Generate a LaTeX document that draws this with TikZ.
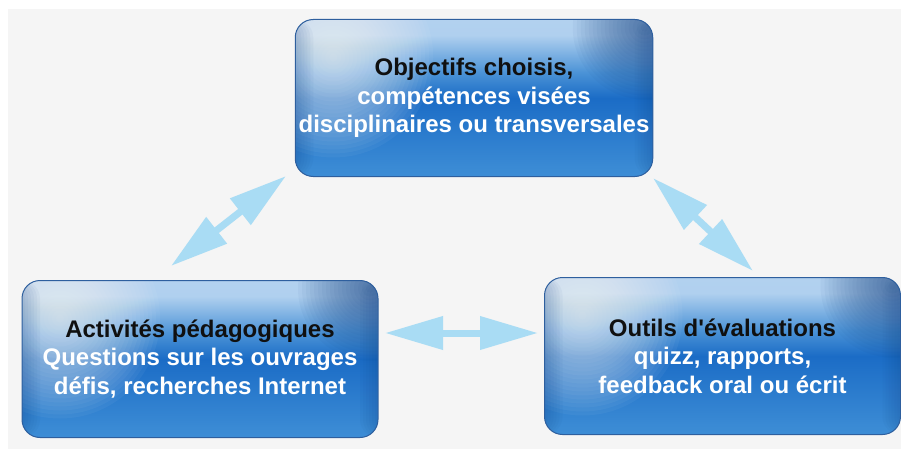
\documentclass[tikz,border=0pt]{standalone}
\usepackage{fontspec}
\setmainfont{Liberation Sans}[Ligatures=TeXOff]
\usetikzlibrary{arrows.meta}

\definecolor{pagegray}{HTML}{F5F5F5}
\definecolor{arrowblue}{HTML}{A9DCF4}
\definecolor{boxedge}{HTML}{2E5F9E}
\definecolor{boxnavy}{HTML}{123F80}
\definecolor{titleblack}{HTML}{101010}
\definecolor{shadeA}{HTML}{3568A8}
\definecolor{shadeB}{HTML}{4B9CDB}
\definecolor{shadeC}{HTML}{3A8AD4}
\definecolor{shadeD}{HTML}{1B6CC6}
\definecolor{shadeE}{HTML}{4A92D6}
\definecolor{shadeF}{HTML}{B0D0EF}
\definecolor{shadeG}{HTML}{BCD6F0}

\pgfdeclareverticalshading{boxshade}{100bp}{%
  color(0bp)=(shadeA);
  color(8bp)=(shadeB);
  color(28bp)=(shadeC);
  color(50bp)=(shadeD);
  color(58bp)=(shadeE);
  color(70bp)=(shadeF);
  color(100bp)=(shadeG)}

\tikzset{
  goalbox/.style={rounded corners=18pt, minimum width=356pt, minimum height=157pt,
    shading=boxshade, draw=boxedge, line width=1pt, text=white, align=center,
    font=\fontsize{24}{28.5}\selectfont\bfseries,
    path picture={
      \foreach \r in {4,8,...,100}
        \fill[white, fill opacity=0.045]
          ([shift={(38,38)}]path picture bounding box.north west) circle[radius=\r pt];
      \foreach \r in {4,8,...,72}
        \fill[boxnavy, fill opacity=0.045]
          ([shift={(-8,8)}]path picture bounding box.north east) circle[radius=\r pt];
      \foreach \w in {3,6,...,18} {
        \fill[boxnavy, fill opacity=0.04]
          (path picture bounding box.north west) rectangle ++(\w,157);
        \fill[boxnavy, fill opacity=0.04]
          (path picture bounding box.north east) rectangle ++(-\w,157);
      }
    }},
  biarrow/.style={draw=arrowblue, line width=7pt,
    {Triangle[length=58pt,width=32pt]}-{Triangle[length=58pt,width=32pt]}}
}

\begin{document}
\begin{tikzpicture}[x=1pt,y=-1pt]
    \useasboundingbox (0,0) rectangle (901,449);
    \fill[white] (0,0) rectangle (901,449);
    \fill[pagegray] (8,9) rectangle (901,449);

    % the three boxes
    \node[goalbox] (goals) at (474,98)
      {{\color{titleblack}Objectifs choisis,}\\compétences visées\\disciplinaires ou transversales};
    \node[goalbox] (activities) at (200,359)
      {{\color{titleblack}Activités pédagogiques}\\Questions sur les ouvrages\\défis, recherches Internet};
    \node[goalbox] (tools) at (722.5,356)
      {{\color{titleblack}Outils d'évaluations}\\quizz, rapports,\\feedback oral ou écrit};

    % arrow ends
    \coordinate (la) at (171,266);
    \coordinate (lb) at (286,176);
    \coordinate (ra) at (653,178);
    \coordinate (rb) at (753,271);
    \coordinate (ma) at (385,333);
    \coordinate (mb) at (538,333);

    \draw[biarrow] (la) -- (lb);
    \draw[biarrow] (ra) -- (rb);
    \draw[biarrow] (ma) -- (mb);
\end{tikzpicture}
\end{document}
